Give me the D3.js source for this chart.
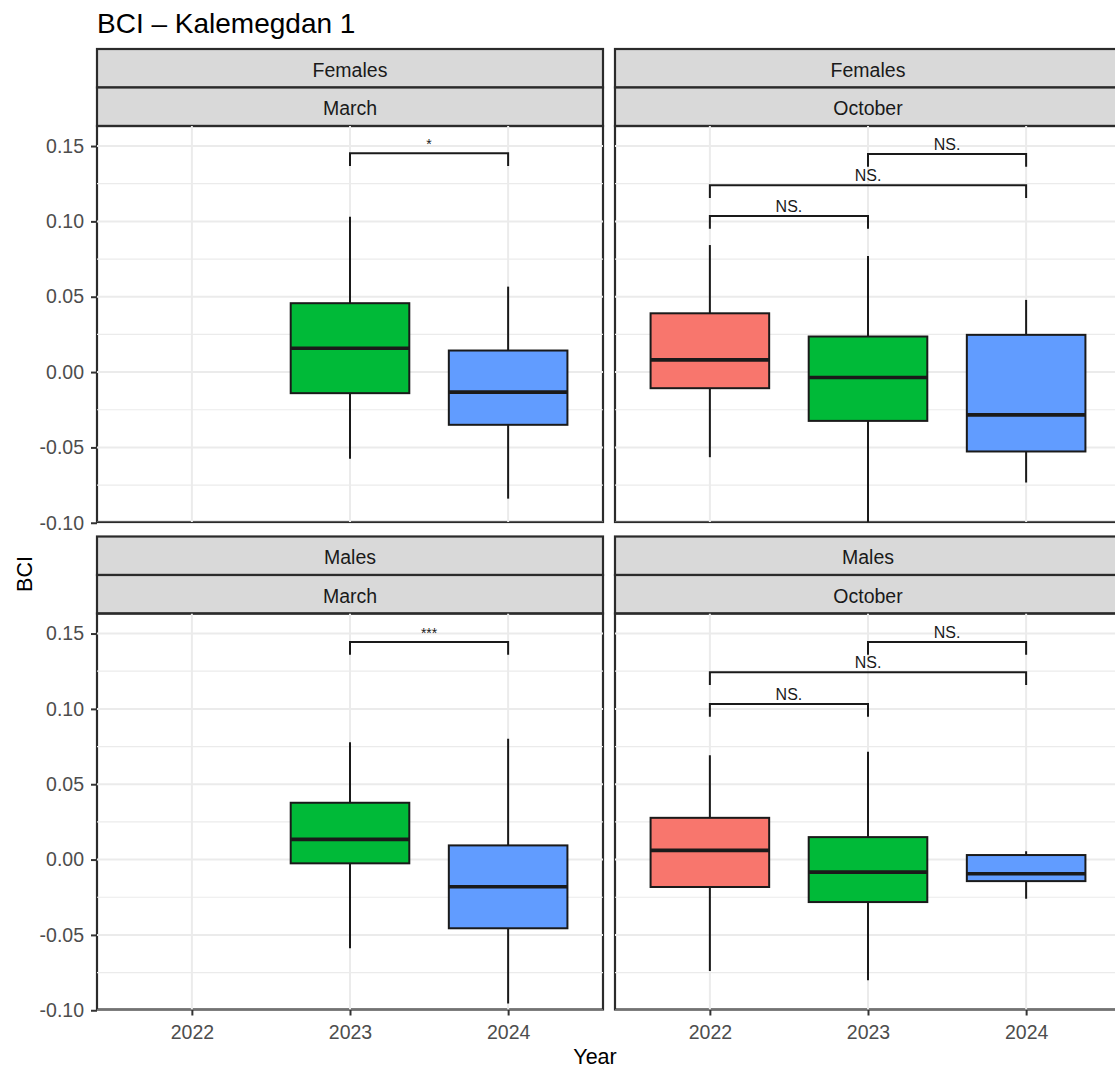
<!DOCTYPE html>
<html>
<head>
<meta charset="utf-8">
<script src="https://cdn.jsdelivr.net/npm/d3@7"></script>
<style>
body { margin: 0; background: #fff; }
svg { display: block; overflow: hidden; font-family: "Liberation Sans", Arial, sans-serif; }
</style>
</head>
<body>
<svg id="chart" width="1115" height="1073"></svg>
<script>
const years = ["2022", "2023", "2024"];
const sexes = ["Females", "Males"];
const months = ["March", "October"];
const yearColors = ["#F8766D", "#00BA38", "#619CFF"];
const yTicks = [-0.10, -0.05, 0.00, 0.05, 0.10, 0.15];
const yMinor = [-0.075, -0.025, 0.025, 0.075, 0.125];

// box stats: [year, whiskerLow, q1, median, q3, whiskerHigh]
const femalesMarch = [
  ["2023", -0.0576, -0.0140, 0.0158, 0.0457, 0.1030],
  ["2024", -0.0840, -0.0350, -0.0133, 0.0143, 0.0567]
];
const femalesOctober = [
  ["2022", -0.0565, -0.0107, 0.0081, 0.0390, 0.0843],
  ["2023", -0.1000, -0.0324, -0.0036, 0.0236, 0.0770],
  ["2024", -0.0733, -0.0527, -0.0284, 0.0247, 0.0479]
];
const malesMarch = [
  ["2023", -0.0589, -0.0025, 0.0134, 0.0377, 0.0779],
  ["2024", -0.0956, -0.0456, -0.0180, 0.0094, 0.0801]
];
const malesOctober = [
  ["2022", -0.0739, -0.0182, 0.0061, 0.0277, 0.0693],
  ["2023", -0.0801, -0.0282, -0.0083, 0.0149, 0.0715],
  ["2024", -0.0260, -0.0143, -0.0094, 0.0030, 0.0056]
];

// significance brackets: [from, to, height, label]
const femalesMarchSig = [["2023", "2024", 0.1452, "*"]];
const femalesOctoberSig = [
  ["2023", "2024", 0.1447, "NS."],
  ["2022", "2024", 0.1240, "NS."],
  ["2022", "2023", 0.1036, "NS."]
];
const malesMarchSig = [["2023", "2024", 0.1444, "***"]];
const malesOctoberSig = [
  ["2023", "2024", 0.1444, "NS."],
  ["2022", "2024", 0.1243, "NS."],
  ["2022", "2023", 0.1033, "NS."]
];
const bracketTip = 0.0085;

const svg = d3.select("#chart");
const panelW = 506, panelH = 396, stripH = 38.5;
const colX = [97, 615];
const rowStrip = [49, 536.5];

const x = d3.scalePoint().domain(years).range([0, panelW]).padding(0.6);
const y = d3.scaleLinear().domain([-0.0995, 0.1633]).range([panelH, 0]);
const color = d3.scaleOrdinal().domain(years).range(yearColors);
const boxW = x.step() * 0.75;

const panels = [
  {sex: sexes[0], month: months[0], row: 0, col: 0, boxes: femalesMarch, sig: femalesMarchSig},
  {sex: sexes[0], month: months[1], row: 0, col: 1, boxes: femalesOctober, sig: femalesOctoberSig},
  {sex: sexes[1], month: months[0], row: 1, col: 0, boxes: malesMarch, sig: malesMarchSig},
  {sex: sexes[1], month: months[1], row: 1, col: 1, boxes: malesOctober, sig: malesOctoberSig}
];

// title
svg.append("text")
  .attr("x", 97).attr("y", 33)
  .attr("font-size", 28).attr("fill", "#000")
  .text("BCI \u2013 Kalemegdan 1");

panels.forEach((p, i) => {
  const px = colX[p.col], top = rowStrip[p.row];
  const py = top + 2 * stripH;

  // strips
  [p.sex, p.month].forEach((lab, k) => {
    svg.append("rect")
      .attr("x", px).attr("y", top + k * stripH)
      .attr("width", panelW).attr("height", stripH)
      .attr("fill", "#D9D9D9").attr("stroke", "#2b2b2b").attr("stroke-width", 2.2);
    svg.append("text")
      .attr("x", px + panelW / 2).attr("y", top + k * stripH + stripH / 2 + 8.5)
      .attr("text-anchor", "middle").attr("font-size", 19.5).attr("fill", "#1A1A1A")
      .text(lab);
  });

  const g = svg.append("g").attr("transform", `translate(${px},${py})`);
  svg.append("clipPath").attr("id", "clip" + i)
    .append("rect").attr("x", px).attr("y", py).attr("width", panelW).attr("height", panelH);
  const inner = svg.append("g").attr("clip-path", `url(#clip${i})`)
    .append("g").attr("transform", `translate(${px},${py})`);

  // grid
  inner.selectAll(".minor").data(yMinor).join("line")
    .attr("x1", 0).attr("x2", panelW)
    .attr("y1", d => y(d)).attr("y2", d => y(d))
    .attr("stroke", "#EBEBEB").attr("stroke-width", 1.2);
  inner.selectAll(".major").data(yTicks).join("line")
    .attr("x1", 0).attr("x2", panelW)
    .attr("y1", d => y(d)).attr("y2", d => y(d))
    .attr("stroke", "#EBEBEB").attr("stroke-width", 2);
  inner.selectAll(".xg").data(years).join("line")
    .attr("x1", d => x(d)).attr("x2", d => x(d))
    .attr("y1", 0).attr("y2", panelH)
    .attr("stroke", "#EBEBEB").attr("stroke-width", 2);

  // boxes
  const bx = inner.selectAll(".box").data(p.boxes).join("g");
  bx.append("line")
    .attr("x1", d => x(d[0])).attr("x2", d => x(d[0]))
    .attr("y1", d => y(d[1])).attr("y2", d => y(d[2]))
    .attr("stroke", "#1A1A1A").attr("stroke-width", 2);
  bx.append("line")
    .attr("x1", d => x(d[0])).attr("x2", d => x(d[0]))
    .attr("y1", d => y(d[4])).attr("y2", d => y(d[5]))
    .attr("stroke", "#1A1A1A").attr("stroke-width", 2);
  bx.append("rect")
    .attr("x", d => x(d[0]) - boxW / 2).attr("width", boxW)
    .attr("y", d => y(d[4])).attr("height", d => y(d[2]) - y(d[4]))
    .attr("fill", d => color(d[0])).attr("stroke", "#1A1A1A").attr("stroke-width", 2);
  bx.append("line")
    .attr("x1", d => x(d[0]) - boxW / 2).attr("x2", d => x(d[0]) + boxW / 2)
    .attr("y1", d => y(d[3])).attr("y2", d => y(d[3]))
    .attr("stroke", "#1A1A1A").attr("stroke-width", 3.6);

  // brackets
  const br = inner.selectAll(".sig").data(p.sig).join("g");
  br.append("path")
    .attr("d", d => `M${x(d[0])},${y(d[2] - bracketTip)}V${y(d[2])}H${x(d[1])}V${y(d[2] - bracketTip)}`)
    .attr("fill", "none").attr("stroke", "#1A1A1A").attr("stroke-width", 2);
  br.append("text")
    .attr("x", d => (x(d[0]) + x(d[1])) / 2).attr("y", d => y(d[2]) - 4)
    .attr("text-anchor", "middle").attr("font-size", d => d[3] === "NS." ? 16 : 14)
    .attr("fill", "#1A1A1A")
    .text(d => d[3]);

  // border
  g.append("rect").attr("width", panelW).attr("height", panelH)
    .attr("fill", "none").attr("stroke", "#2b2b2b").attr("stroke-width", 2.2);

  // axes
  if (p.col === 0) {
    const ax = g.append("g").call(d3.axisLeft(y).tickValues(yTicks)
      .tickSize(6).tickPadding(7).tickFormat(d => d.toFixed(2)));
    ax.select(".domain").remove();
    ax.selectAll("line").attr("stroke", "#333").attr("stroke-width", 2);
    ax.selectAll("text").attr("font-size", 19.5).attr("fill", "#4D4D4D")
      .attr("font-family", "Liberation Sans, Arial, sans-serif");
  }
  if (p.row === 1) {
    const ax = g.append("g").attr("transform", `translate(0,${panelH})`)
      .call(d3.axisBottom(x).tickSize(6).tickPadding(10));
    ax.select(".domain").remove();
    ax.selectAll("line").attr("stroke", "#333").attr("stroke-width", 2);
    ax.selectAll("text").attr("font-size", 19.5).attr("fill", "#4D4D4D")
      .attr("font-family", "Liberation Sans, Arial, sans-serif");
  }
});

// axis titles
svg.append("text")
  .attr("x", 595).attr("y", 1064)
  .attr("text-anchor", "middle").attr("font-size", 21.5).attr("fill", "#000")
  .text("Year");
svg.append("text")
  .attr("transform", "translate(32,574) rotate(-90)")
  .attr("text-anchor", "middle").attr("font-size", 21.5).attr("fill", "#000")
  .text("BCI");
</script>
</body>
</html>
